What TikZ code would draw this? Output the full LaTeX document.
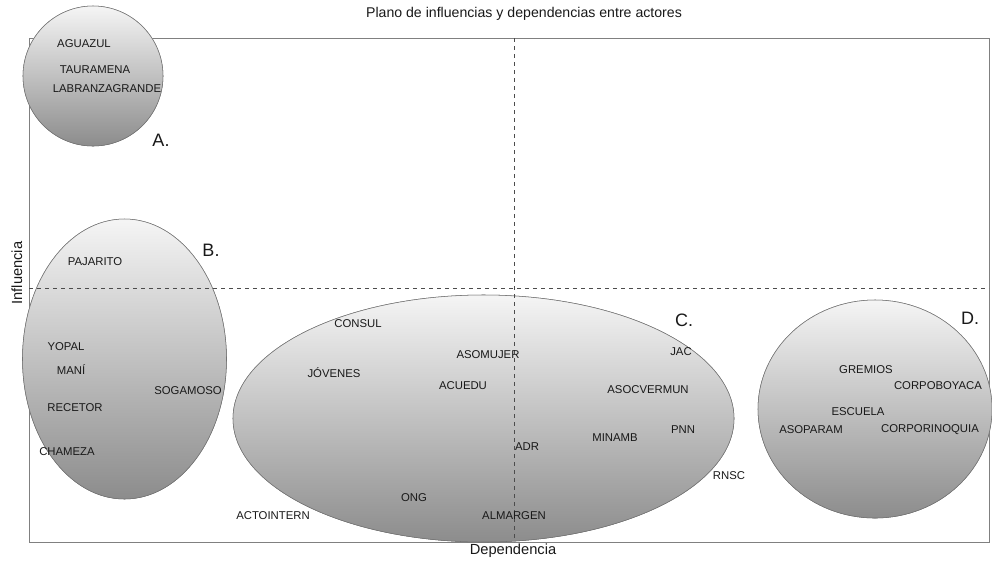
\documentclass[tikz,border=0pt]{standalone}
\usepackage{fontspec}
\setmainfont{Liberation Sans}
\begin{document}
\begin{tikzpicture}[x=0.75pt,y=-0.75pt,
    actor/.style={font=\fontsize{8.5}{10}\selectfont,inner sep=0pt,text=black!90},
    group/.style={draw=black!55,top color=black!4,bottom color=black!45},
    tag/.style={font=\fontsize{13.5}{16}\selectfont,inner sep=0pt,text=black!90},
    axislabel/.style={font=\fontsize{11}{13}\selectfont,inner sep=0pt,text=black!90}]
    \useasboundingbox (0,0) rectangle (992,562);

    % marco
    \draw[black!50] (29,38) rectangle (989,542);

    % grupos
    \shade[group] (93,76) ellipse [x radius=70*0.75pt, y radius=70*0.75pt];
    \shade[group] (124.5,359) ellipse [x radius=102*0.75pt, y radius=140*0.75pt];
    \shade[group] (483.5,418.5) ellipse [x radius=250.5*0.75pt, y radius=123.5*0.75pt];
    \shade[group] (875,409) ellipse [x radius=117*0.75pt, y radius=109*0.75pt];
    \draw[group,fill=none] (93,76) ellipse [x radius=70*0.75pt, y radius=70*0.75pt];
    \draw[group,fill=none] (124.5,359) ellipse [x radius=102*0.75pt, y radius=140*0.75pt];
    \draw[group,fill=none] (483.5,418.5) ellipse [x radius=250.5*0.75pt, y radius=123.5*0.75pt];
    \draw[group,fill=none] (875,409) ellipse [x radius=117*0.75pt, y radius=109*0.75pt];

    % cuadrantes
    \draw[dashed,black!70] (514,38) -- (514,542);
    \draw[dashed,black!70] (29,288) -- (989,288);

    % textos
    \node[font=\fontsize{10.6}{12}\selectfont,text=black!90] (titulo) at (524,14) {Plano de influencias y dependencias entre actores};
    \node[axislabel] (dep) at (513,551) {Dependencia};
    \node[axislabel,rotate=90] (inf) at (17,273) {Influencia};

    \node[tag] (tagA) at (161,140) {A.};
    \node[tag] (tagB) at (211,250) {B.};
    \node[tag] (tagC) at (684,320) {C.};
    \node[tag] (tagD) at (970,318) {D.};

    % grupo A
    \node[actor] (aguazul)   at (84,44)  {AGUAZUL};
    \node[actor] (tauramena) at (95,70)  {TAURAMENA};
    \node[actor] (labranza)  at (107,89) {LABRANZAGRANDE};

    % grupo B
    \node[actor] (pajarito) at (95,262)  {PAJARITO};
    \node[actor] (yopal)    at (66,347)  {YOPAL};
    \node[actor] (mani)     at (71,370)  {MANÍ};
    \node[actor] (recetor)  at (75,408)  {RECETOR};
    \node[actor] (sogamoso) at (188,391) {SOGAMOSO};
    \node[actor] (chameza)  at (67,452)  {CHAMEZA};

    % grupo C
    \node[actor] (consul)     at (358,324) {CONSUL};
    \node[actor] (jovenes)    at (334,373) {JÓVENES};
    \node[actor] (asomujer)   at (488,355) {ASOMUJER};
    \node[actor] (acuedu)     at (463,386) {ACUEDU};
    \node[actor] (jac)        at (681,352) {JAC};
    \node[actor] (asocvermun) at (648,390) {ASOCVERMUN};
    \node[actor] (pnn)        at (683,430) {PNN};
    \node[actor] (minamb)     at (615,438) {MINAMB};
    \node[actor] (adr)        at (527,447) {ADR};
    \node[actor] (rnsc)       at (729,476) {RNSC};
    \node[actor] (ong)        at (414,498) {ONG};
    \node[actor] (almargen)   at (514,516) {ALMARGEN};
    \node[actor] (actointern) at (273,516) {ACTOINTERN};

    % grupo D
    \node[actor] (gremios)       at (866,370) {GREMIOS};
    \node[actor] (corpoboyaca)   at (938,386) {CORPOBOYACA};
    \node[actor] (escuela)       at (858,412) {ESCUELA};
    \node[actor] (asoparam)      at (811,430) {ASOPARAM};
    \node[actor] (corporinoquia) at (930,430) {CORPORINOQUIA};
\end{tikzpicture}
\end{document}
